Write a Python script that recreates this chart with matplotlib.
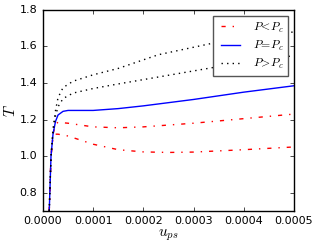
import numpy as np
import matplotlib
matplotlib.use('Agg')
import matplotlib.pyplot as plt
from matplotlib.ticker import MultipleLocator

plt.style.use('classic')
plt.rcParams['font.size'] = 8
plt.rcParams['mathtext.fontset'] = 'cm'

# values
u_low1 = [0.0000125, 0.000016, 0.00002, 0.000025, 0.00003, 0.00005, 0.0001, 0.00015, 0.0002, 0.0003, 0.0004, 0.0005]
T_low1 = [0.70, 1.00, 1.12, 1.175, 1.185, 1.18, 1.16, 1.155, 1.16, 1.18, 1.205, 1.23]
u_low2 = [0.0000125, 0.000016, 0.00002, 0.000025, 0.00003, 0.00005, 0.0001, 0.00015, 0.0002, 0.00025, 0.0003, 0.0004, 0.0005]
T_low2 = [0.70, 1.00, 1.10, 1.12, 1.12, 1.11, 1.065, 1.035, 1.023, 1.02, 1.022, 1.035, 1.05]
u_crit = [0.0000125, 0.000016, 0.00002, 0.000025, 0.00003, 0.00004, 0.00005, 0.0001, 0.00015, 0.0002, 0.0003, 0.0004, 0.0005]
T_crit = [0.70, 1.00, 1.12, 1.19, 1.225, 1.245, 1.25, 1.25, 1.26, 1.275, 1.31, 1.35, 1.385]
u_high1 = [0.0000125, 0.000016, 0.00002, 0.000025, 0.00003, 0.00004, 0.00006, 0.0001, 0.00015, 0.00023, 0.00035, 0.00045, 0.0005]
T_high1 = [0.70, 1.00, 1.15, 1.25, 1.32, 1.375, 1.41, 1.445, 1.48, 1.555, 1.625, 1.66, 1.68]
u_high2 = [0.0000125, 0.000016, 0.00002, 0.000025, 0.00003, 0.00004, 0.00006, 0.0001, 0.00015, 0.00023, 0.00035, 0.00045, 0.0005]
T_high2 = [0.70, 1.00, 1.13, 1.22, 1.27, 1.315, 1.345, 1.37, 1.395, 1.433, 1.49, 1.53, 1.55]

fig = plt.figure(figsize=(3.16, 2.49), dpi=100)
fig.patch.set_facecolor('white')
ax = fig.add_axes([0.136, 0.153, 0.794, 0.807])

ax.plot(u_low1, T_low1, 'r-.', lw=1, label=r'$P\!<\!P_c$')
ax.plot(u_low2, T_low2, 'r-.', lw=1)
ax.plot(u_crit, T_crit, 'b-', lw=1, label=r'$P\!=\!P_c$')
ax.plot(u_high1, T_high1, 'k:', lw=1, label=r'$P\!>\!P_c$')
ax.plot(u_high2, T_high2, 'k:', lw=1)

ax.set_xlim(0, 0.0005)
ax.set_ylim(0.7, 1.8)
ax.xaxis.set_major_locator(MultipleLocator(0.0001))
ax.yaxis.set_major_locator(MultipleLocator(0.2))
ax.xaxis.set_major_formatter(plt.FormatStrFormatter('%.4f'))
ax.yaxis.set_major_formatter(plt.FormatStrFormatter('%.1f'))
ax.tick_params(labelsize=8, length=3)
ax.set_xlabel(r'$u_{ps}$', fontsize=11, labelpad=1)
ax.set_ylabel(r'$T$', fontsize=11, labelpad=1)

leg = ax.legend(loc='upper right', fontsize=8.5, handlelength=2.2, borderpad=0.4,
                labelspacing=0.35, fancybox=False)
leg.get_frame().set_edgecolor('#555555')

fig.savefig('out.png', dpi=100)
